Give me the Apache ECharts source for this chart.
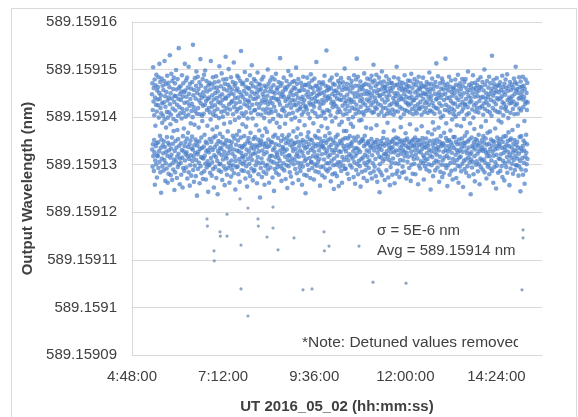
<!DOCTYPE html>
<html>
<head>
<meta charset="utf-8">
<script src="https://cdn.jsdelivr.net/npm/echarts@6/dist/echarts.min.js"></script>
<style>
  html, body { margin: 0; padding: 0; background: #ffffff; }
  #chart { width: 578px; height: 417px; }
</style>
</head>
<body>
<div id="chart"></div>
<script>
// Laser output wavelength log, UT 2016-05-02.
// Readings are logged every 18 s starting at 05:19:36.
const logStart = '5:19:36';
const logStepSeconds = 18;
// Wavelength base (nm); each reading is stored as an offset in units of 1e-7 nm.
const baseWavelength = 589.15912;
const offsetUnit = 1e-7;
const readings = [
  248,132,271,96,215,143,305,118,233,261,87,152,204,126,279,58,241,109,182,267,139,226,101,289,145,212,73,256,120,237,
  118,263,225,147,93,284,199,128,251,312,106,238,161,274,84,219,135,246,41,208,153,281,113,229,188,97,266,141,203,124,
  257,88,231,149,276,110,318,195,137,244,66,222,103,269,178,127,253,92,211,158,287,119,235,62,199,146,272,81,241,130,
  210,142,263,99,330,227,115,185,250,78,205,134,291,121,239,157,68,276,103,218,144,259,90,196,171,283,111,232,47,245,
  129,271,84,214,150,244,107,299,192,136,258,72,226,117,173,280,95,203,154,238,123,345,101,262,140,221,59,248,113,208,
  265,104,236,145,79,254,197,131,288,115,217,52,243,160,93,271,128,209,176,252,87,230,139,312,109,256,148,201,122,277,
  94,243,126,216,155,283,71,231,118,262,167,137,205,306,84,249,112,224,143,56,270,99,238,151,187,120,260,77,213,134,
  228,159,274,108,200,132,352,89,246,117,221,64,257,141,184,98,282,125,213,153,239,76,266,110,296,147,207,35,251,122,
  140,285,91,219,127,259,178,104,235,149,273,61,206,133,247,322,97,229,116,266,157,82,241,135,203,192,114,280,70,224,
  252,113,207,138,289,86,244,163,119,226,298,102,261,148,69,234,128,276,94,215,145,254,182,107,238,131,43,267,100,219,
  126,241,99,272,154,210,83,258,136,195,318,114,230,148,269,77,222,105,246,174,131,284,91,205,157,237,52,262,120,213,
  273,137,225,95,251,160,203,116,286,72,240,143,179,262,108,217,38,254,129,232,150,275,88,198,124,307,101,244,165,135,
  102,229,147,265,85,211,133,292,120,248,68,236,158,201,111,279,142,223,96,259,186,127,213,57,270,145,241,90,327,118,
  239,152,280,113,219,79,256,138,207,170,93,268,124,245,301,104,227,150,62,263,131,216,189,98,250,139,284,75,231,109,
  147,258,90,234,123,274,161,206,99,248,132,315,82,221,155,266,117,194,240,48,271,108,229,142,256,95,212,163,130,287,
  260,96,217,151,241,80,283,128,199,171,112,253,64,232,139,276,105,220,157,339,125,247,88,208,136,269,118,185,242,101,
  115,272,139,203,87,255,160,227,106,295,143,236,71,264,121,210,180,97,249,132,278,54,224,149,197,112,261,84,235,156,
  232,127,260,102,219,146,288,76,244,167,118,209,135,271,92,253,309,110,226,141,197,67,265,123,238,154,86,280,133,214,
  89,249,158,215,124,276,99,239,141,183,262,107,228,61,252,137,294,116,206,153,243,80,270,128,220,172,103,257,146,31,
  268,141,228,93,259,151,205,113,279,74,235,161,130,249,104,216,144,285,85,243,122,198,266,58,231,138,255,176,97,210,
  145,236,81,263,126,218,169,100,245,137,300,90,227,153,270,111,208,62,254,140,191,233,118,277,94,216,148,261,107,240,
  210,119,284,147,229,73,253,131,196,159,267,105,241,45,222,135,279,91,250,163,116,213,143,291,83,237,126,188,258,102,
  121,262,95,238,156,205,114,274,79,233,141,250,179,108,226,324,130,266,97,202,150,243,66,271,123,215,162,92,247,137,
  254,134,219,103,283,154,242,88,212,128,262,186,117,234,70,258,145,203,99,276,132,224,157,51,264,110,238,149,297,119,
  97,243,163,207,120,269,84,229,142,251,106,288,75,220,151,195,256,113,236,137,274,61,209,129,246,170,101,262,144,226,
  276,110,235,146,199,91,260,133,225,304,118,249,158,82,270,124,214,176,104,241,148,280,68,230,117,255,139,192,95,217,
  130,256,87,221,164,272,103,238,147,205,58,264,126,243,152,96,229,285,118,211,140,257,79,236,183,108,268,134,221,40,
  223,148,267,112,247,77,216,137,283,159,100,254,125,207,168,242,89,271,143,230,114,198,153,263,72,226,131,290,106,248,
  105,238,152,277,93,213,135,261,118,228,187,144,252,69,222,127,281,101,240,161,208,86,266,139,233,115,316,157,98,245,
  265,120,201,143,257,106,233,171,84,248,130,273,112,219,155,56,260,138,227,95,250,147,203,181,122,269,78,236,140,212,
  138,273,96,229,150,252,111,209,134,287,73,244,160,197,124,266,90,235,146,340,103,256,129,215,177,86,240,152,263,117,
  244,103,258,137,213,166,92,277,121,238,155,204,65,261,142,229,108,283,131,191,248,80,221,151,270,99,232,125,49,255,
  113,227,146,268,82,245,131,199,158,256,100,223,138,289,76,239,119,210,163,251,105,276,143,217,55,263,128,184,237,96,
  271,150,211,105,247,127,282,87,236,145,190,62,257,116,224,153,273,98,205,139,264,171,110,242,133,302,91,229,156,216,
  92,259,128,234,171,207,116,270,141,247,81,223,155,261,109,196,136,282,70,238,122,213,160,254,99,231,144,186,268,118,
  236,140,276,94,220,148,261,113,200,180,128,250,74,232,157,288,105,217,134,243,60,266,119,207,151,279,89,226,135,323,
  124,251,101,216,159,285,80,243,132,266,108,210,193,146,258,97,234,127,275,54,222,149,247,112,194,264,85,238,154,210,
  258,115,230,151,267,72,205,139,292,104,249,161,121,226,88,270,143,213,178,99,255,130,237,66,281,117,219,146,248,106,
  149,268,93,233,127,252,109,214,141,279,82,240,135,262,176,225,154,287,71,247,120,209,138,273,103,231,146,310,86,255,
  211,130,277,96,241,147,220,112,265,76,234,137,289,183,218,152,251,64,270,125,228,143,257,90,205,133,283,117,244,42,
  101,246,139,273,84,225,150,258,115,211,131,296,78,237,144,266,107,219,156,249,169,275,122,203,140,262,68,231,112,255,
  263,122,219,145,286,88,243,128,207,153,270,188,236,118,254,73,214,141,279,110,246,134,225,57,261,147,208,95,272,126,
  134,255,104,228,149,271,79,216,137,262,113,240,154,205,172,284,126,233,61,250,145,212,103,267,130,244,157,81,226,306,
  229,143,268,87,250,120,212,155,281,102,236,130,260,74,222,148,273,110,244,136,199,179,265,123,239,151,218,83,256,141,
  96,272,131,237,109,260,146,206,85,248,127,288,118,215,152,257,166,231,140,269,71,242,125,213,155,263,106,229,136,277,
  254,117,225,148,265,93,240,135,210,185,276,144,252,66,228,127,291,100,243,150,217,119,261,81,235,139,206,153,270,112,
  141,236,102,280,130,223,157,252,80,214,121,267,146,241,174,208,136,275,113,256,152,227,59,247,128,285,98,219,142,262,
  217,151,259,92,232,126,271,107,245,142,205,181,264,133,222,156,251,103,283,120,238,147,69,266,115,211,138,249,97,229,
  108,263,136,219,155,248,90,274,124,233,145,257,112,209,168,269,140,242,101,226,131,294,86,253,150,214,119,260,48,237,
  270,128,245,99,212,164,281,116,230,143,189,76,258,135,223,151,266,104,207,174,126,249,88,274,145,219,109,237,313,133,
  121,239,153,264,94,218,137,286,106,246,178,130,252,64,229,148,210,117,271,85,241,160,199,139,260,100,224,143,281,74,
  247,109,275,145,203,127,258,82,236,167,115,268,140,215,99,249,323,131,226,156,187,93,262,119,240,150,55,270,128,214,
  99,256,139,222,114,285,152,241,79,210,133,264,172,104,234,147,277,87,253,125,218,195,141,245,69,229,112,259,158,206,
  262,135,214,104,250,158,228,90,279,121,201,148,268,72,241,131,183,110,256,143,222,98,289,126,236,62,207,153,265,115,
  130,249,96,271,144,226,117,258,181,86,243,136,212,155,280,102,232,127,265,53,218,146,250,108,196,139,274,91,227,161,
  226,146,280,111,238,83,261,130,205,168,124,253,97,221,149,296,115,245,136,208,76,268,153,231,105,257,187,122,240,38,
  111,264,126,233,157,271,94,216,140,250,106,288,136,199,80,259,147,225,175,118,243,65,272,132,212,154,261,100,229,142,
  252,107,219,151,267,123,244,86,278,139,210,163,101,256,129,234,59,262,145,220,113,284,95,241,180,132,264,109,223,152,
  137,274,90,243,129,205,160,256,111,229,146,300,84,217,132,268,104,239,155,192,125,250,71,231,142,276,118,213,167,96,
  242,126,262,101,225,144,285,80,248,118,210,170,133,271,92,236,153,254,109,203,140,329,87,260,127,219,150,245,62,278,
  119,233,148,269,95,251,132,214,176,105,263,139,227,50,255,121,282,98,240,157,211,134,267,83,237,149,193,113,252,143,
  266,140,210,112,273,87,239,154,257,122,220,189,97,244,135,287,74,231,148,263,108,204,159,253,125,228,67,270,137,218,
  103,247,131,279,160,222,95,261,142,213,116,290,83,236,150,255,127,198,168,107,265,139,241,57,229,121,274,152,209,92,
  238,155,257,115,230,136,268,102,244,173,126,217,81,262,144,233,110,281,131,206,152,249,89,273,118,225,306,99,256,141,
  128,270,99,228,148,259,113,207,182,136,251,77,239,123,284,96,218,158,263,108,241,44,275,134,214,160,90,247,129,264,
  255,114,237,139,285,79,221,151,266,104,242,130,192,60,259,146,228,117,279,88,233,163,125,251,101,215,143,272,112,231
];

// Isolated low readings (UT time, wavelength in nm).
const outlierTimes = [
  '7:38:42','7:51:20','8:30:50','7:18:10','6:46:32','6:47:10','8:07:08','8:07:40',
  '7:07:05','7:07:40','7:18:10','8:21:22','9:04:02','9:51:27','7:40:16','9:59:22',
  '10:46:46','6:57:36','8:38:45','9:52:00','6:58:00','7:40:16','9:18:16','9:32:30',
  '11:08:54','12:01:04','7:51:20','15:06:00','15:06:00','15:04:24','8:30:50'
];
const outlierWavelengths = [
  589.1591228,589.1591209,589.1591211,589.1591196,589.1591186,589.1591171,589.1591186,589.1591171,
  589.1591159,589.1591150,589.1591150,589.1591148,589.1591146,589.1591159,589.1591131,589.1591129,
  589.1591129,589.1591119,589.1591121,589.1591119,589.1591098,589.1591039,589.1591037,589.1591039,
  589.1591053,589.1591051,589.1590982,589.1591163,589.1591146,589.1591037,589.1591167
];

// Axis ranges (time axis in fractions of a day, as a spreadsheet stores it)
const timeAxis = { min: 0.2, max: 0.65, step: 0.1 };
const waveAxis = { min: 589.15909, max: 589.15916, step: 0.00001 };

const noteLines = ['σ = 5E-6 nm', 'Avg = 589.15914 nm'];
const footNote = '*Note: Detuned values removed';

function clockToDay(s) {
  const p = s.split(':').map(Number);
  return (p[0] * 3600 + p[1] * 60 + p[2]) / 86400;
}
function dayToClock(v) {
  const sec = Math.round(v * 86400);
  const h = Math.floor(sec / 3600), m = Math.floor((sec % 3600) / 60), s = sec % 60;
  return h + ':' + String(m).padStart(2, '0') + ':' + String(s).padStart(2, '0');
}

const t0 = clockToDay(logStart);
const points = readings.map((r, i) => [t0 + i * logStepSeconds / 86400, baseWavelength + r * offsetUnit]);
const strays = outlierTimes.map((t, i) => [clockToDay(t), outlierWavelengths[i]]);

const FONT = '"Liberation Sans", Arial, sans-serif';
const TEXT = '#404040';
const GRIDC = '#d9d9d9';

const chart = echarts.init(document.getElementById('chart'), null, { renderer: 'canvas' });
chart.setOption({
  animation: false,
  backgroundColor: '#ffffff',
  grid: { left: 132, right: 36, top: 22, bottom: 62, containLabel: false, outerBoundsMode: 'none' },
  xAxis: {
    type: 'value',
    min: timeAxis.min, max: timeAxis.max, interval: timeAxis.step,
    name: 'UT 2016_05_02 (hh:mm:ss)',
    nameLocation: 'middle', nameGap: 44,
    nameTextStyle: { fontFamily: FONT, fontSize: 15, fontWeight: 'bold', color: TEXT },
    axisLine: { show: true, lineStyle: { color: GRIDC, width: 1 } },
    axisTick: { show: false },
    splitLine: { show: false },
    axisLabel: {
      margin: 14, fontFamily: FONT, fontSize: 15, color: TEXT,
      showMaxLabel: false,
      formatter: v => dayToClock(v)
    }
  },
  yAxis: {
    type: 'value',
    min: waveAxis.min, max: waveAxis.max, interval: waveAxis.step,
    name: 'Output Wavelength (nm)',
    nameLocation: 'middle', nameGap: 88, nameRotate: 90,
    nameTextStyle: { fontFamily: FONT, fontSize: 15, fontWeight: 'bold', color: TEXT },
    axisLine: { show: true, lineStyle: { color: GRIDC, width: 1 } },
    axisTick: { show: false },
    splitLine: { show: true, lineStyle: { color: GRIDC, width: 1 } },
    axisLabel: {
      margin: 15, fontFamily: FONT, fontSize: 15, color: TEXT,
      formatter: v => String(parseFloat(v.toFixed(5)))
    }
  },
  series: [{
    type: 'scatter',
    data: points,
    symbol: 'circle',
    symbolSize: 4.6,
    silent: true,
    itemStyle: { color: '#4a7ec8', opacity: 0.72 }
  }, {
    type: 'scatter',
    data: strays,
    symbol: 'circle',
    symbolSize: 3.2,
    silent: true,
    itemStyle: { color: '#7f95b8', opacity: 0.85 }
  }],
  graphic: [
    { type: 'rect', silent: true, z: -1,
      shape: { x: 11.5, y: 8.5, width: 565, height: 430 },
      style: { fill: null, stroke: GRIDC, lineWidth: 1 } },
    { type: 'text', left: 377, top: 223,
      style: { text: noteLines[0], font: '15px ' + FONT, fill: TEXT } },
    { type: 'text', left: 377, top: 243,
      style: { text: noteLines[1], font: '15px ' + FONT, fill: TEXT } },
    { type: 'text', left: 302, top: 335,
      style: { text: footNote, font: '15.5px ' + FONT, fill: TEXT } },
    { type: 'rect', silent: true, z: 100,
      shape: { x: 518, y: 334, width: 16, height: 19 },
      style: { fill: '#ffffff' } }
  ]
});
</script>
</body>
</html>
